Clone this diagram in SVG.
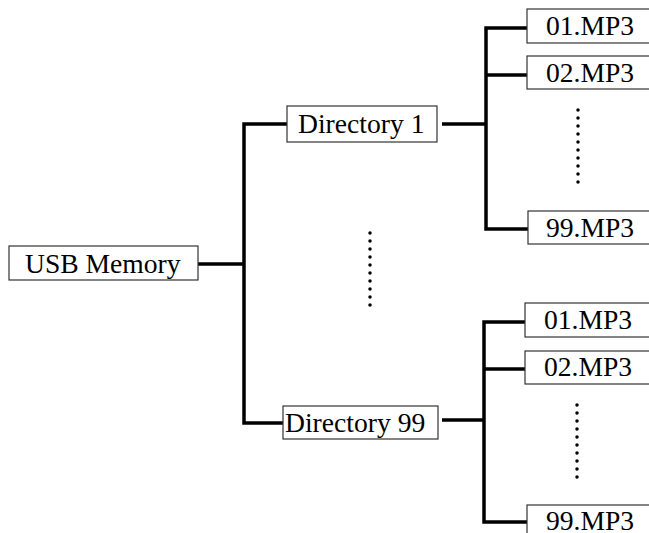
<svg xmlns="http://www.w3.org/2000/svg" width="649" height="533" viewBox="0 0 649 533">
<style>
.box{fill:#fff;stroke:#333;stroke-width:1.2}
.t{font-family:"Liberation Serif","Times New Roman",serif;font-size:27.6px;fill:#000}
.c{fill:none;stroke:#000;stroke-width:3.5}
.d{fill:none;stroke:#000;stroke-width:3.5;stroke-linecap:round;stroke-dasharray:0 8}
</style>
<rect width="649" height="533" fill="#fff"/>
<g id="connectors">
<path class="c" d="M198,264 H243"/>
<path class="c" d="M287,124 H244 V423 H283"/>
<path class="c" d="M442,124 H486"/>
<path class="c" d="M527,28 H486 V229 H528"/>
<path class="c" d="M486,75 H527"/>
<path class="c" d="M442,420 H484"/>
<path class="c" d="M525,322 H484 V522 H527"/>
<path class="c" d="M484,369 H525"/>
</g>
<g id="ellipsis">
<path class="d" d="M370,233 V306"/>
<path class="d" d="M578,110 V183"/>
<path class="d" d="M577,405 V478"/>
</g>
<g id="usb"><rect class="box" x="9" y="246" width="189" height="34"/><text class="t" x="25" y="273">USB Memory</text></g>
<g id="dir1"><rect class="box" x="287" y="106" width="150" height="36"/><text class="t" x="298" y="133">Directory 1</text></g>
<g id="dir99"><rect class="box" x="283" y="406" width="155" height="33"/><text class="t" x="285" y="432">Directory 99</text></g>
<g id="d1f01"><rect class="box" x="527" y="9" width="140" height="34"/><text class="t" x="546" y="35">01.MP3</text></g>
<g id="d1f02"><rect class="box" x="527" y="56" width="140" height="33"/><text class="t" x="546" y="82">02.MP3</text></g>
<g id="d1f99"><rect class="box" x="528" y="211" width="140" height="33"/><text class="t" x="546" y="237">99.MP3</text></g>
<g id="d99f01"><rect class="box" x="525" y="303" width="140" height="34"/><text class="t" x="544" y="329">01.MP3</text></g>
<g id="d99f02"><rect class="box" x="525" y="351" width="140" height="33"/><text class="t" x="544" y="376">02.MP3</text></g>
<g id="d99f99"><rect class="box" x="527" y="505" width="140" height="40"/><text class="t" x="546" y="530">99.MP3</text></g>
</svg>
